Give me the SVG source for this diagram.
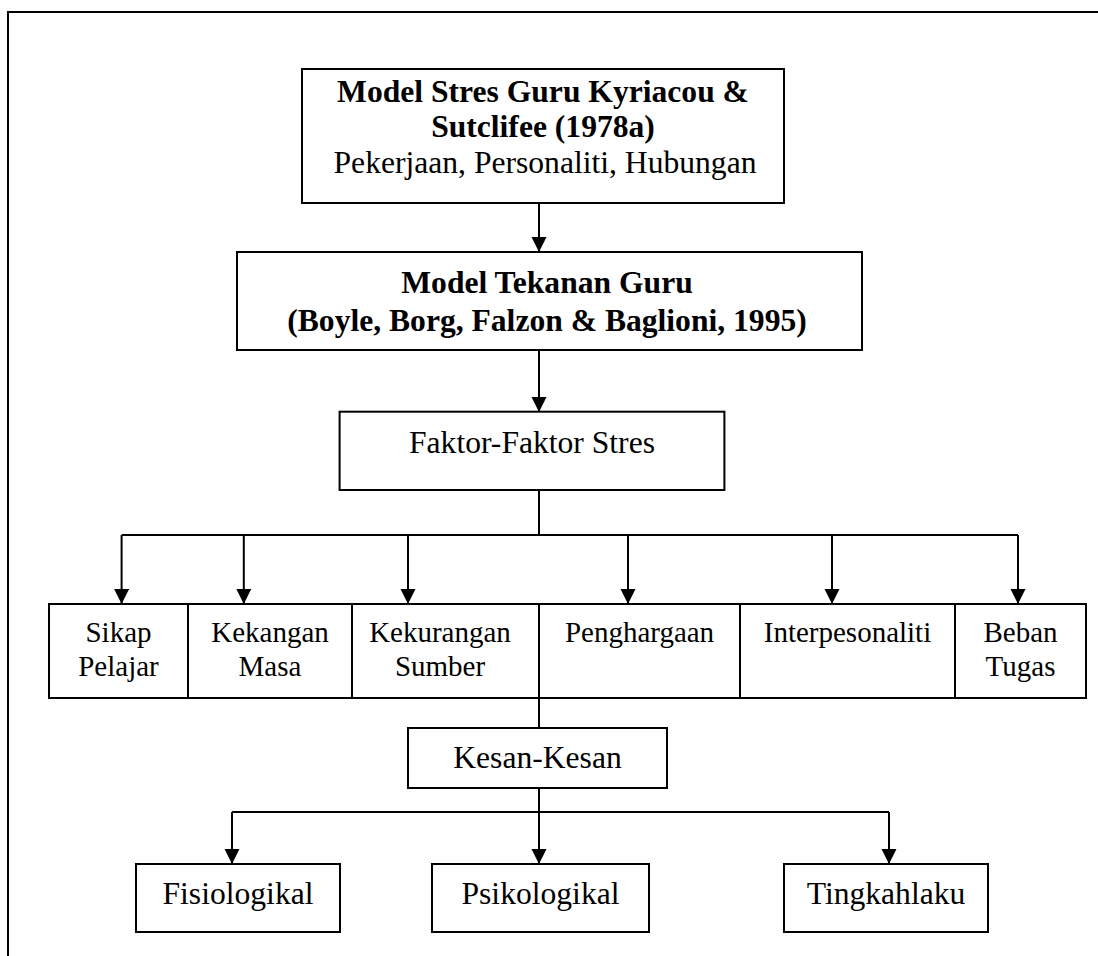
<svg xmlns="http://www.w3.org/2000/svg" width="1098" height="956" viewBox="0 0 1098 956">
<style>
.box{fill:#fff;stroke:#000;stroke-width:2}
.ln{fill:none;stroke:#000;stroke-width:2}
.t{font-family:"Liberation Serif","Times New Roman",serif;font-size:31.6px;fill:#000;text-anchor:middle}
.b{font-weight:bold}
.s{font-size:29px}
</style>
<defs>
<marker id="ah" markerUnits="userSpaceOnUse" markerWidth="16" markerHeight="16" refX="15" refY="7.5" orient="auto">
<path d="M0,0 L15,7.5 L0,15 z" fill="#000"/>
</marker>
</defs>
<rect width="1098" height="956" fill="#fff"/>
<path class="ln" d="M8,956 V12 H1098"/>
<g id="connectors">
<path class="ln" d="M539,203 V252" marker-end="url(#ah)"/>
<path class="ln" d="M539,350 V412" marker-end="url(#ah)"/>
<path class="ln" d="M539,490 V535 M121.6,535 H1018"/>
<path class="ln" d="M121.6,535 V604" marker-end="url(#ah)"/>
<path class="ln" d="M243.8,535 V604" marker-end="url(#ah)"/>
<path class="ln" d="M408,535 V604" marker-end="url(#ah)"/>
<path class="ln" d="M628,535 V604" marker-end="url(#ah)"/>
<path class="ln" d="M832,535 V604" marker-end="url(#ah)"/>
<path class="ln" d="M1018,535 V604" marker-end="url(#ah)"/>
<path class="ln" d="M539,698 V728"/>
<path class="ln" d="M539,788 V812 M232,812 H889"/>
<path class="ln" d="M232,812 V864" marker-end="url(#ah)"/>
<path class="ln" d="M539,812 V864" marker-end="url(#ah)"/>
<path class="ln" d="M889,812 V864" marker-end="url(#ah)"/>
</g>
<g id="model-stres">
<rect class="box" x="302" y="69" width="482" height="134"/>
<text class="t b" x="543" y="102">Model Stres Guru Kyriacou &amp;</text>
<text class="t b" x="543" y="137">Sutclifee (1978a)</text>
<text class="t" x="545" y="173">Pekerjaan, Personaliti, Hubungan</text>
</g>
<g id="model-tekanan">
<rect class="box" x="237" y="252" width="625" height="98"/>
<text class="t b" x="547" y="293">Model Tekanan Guru</text>
<text class="t b" x="547" y="331">(Boyle, Borg, Falzon &amp; Baglioni, 1995)</text>
</g>
<g id="faktor">
<rect class="box" x="339.6" y="411.7" width="384.8" height="78.3"/>
<text class="t" x="532" y="453">Faktor-Faktor Stres</text>
</g>
<g id="sikap">
<rect class="box" x="49" y="604" width="139" height="94"/>
<text class="t s" x="118.5" y="642">Sikap</text>
<text class="t s" x="118.5" y="676">Pelajar</text>
</g>
<g id="kekangan">
<rect class="box" x="188" y="604" width="164" height="94"/>
<text class="t s" x="270" y="642">Kekangan</text>
<text class="t s" x="270" y="676">Masa</text>
</g>
<g id="kekurangan">
<rect class="box" x="352" y="604" width="187" height="94"/>
<text class="t s" x="440" y="642">Kekurangan</text>
<text class="t s" x="440" y="676">Sumber</text>
</g>
<g id="penghargaan">
<rect class="box" x="539" y="604" width="201" height="94"/>
<text class="t s" x="639.5" y="642">Penghargaan</text>
</g>
<g id="interpesonaliti">
<rect class="box" x="740" y="604" width="215" height="94"/>
<text class="t s" x="847.5" y="642">Interpesonaliti</text>
</g>
<g id="beban">
<rect class="box" x="955" y="604" width="131" height="94"/>
<text class="t s" x="1020.5" y="642">Beban</text>
<text class="t s" x="1020.5" y="676">Tugas</text>
</g>
<g id="kesan">
<rect class="box" x="408" y="728" width="259" height="60"/>
<text class="t" x="537.5" y="768">Kesan-Kesan</text>
</g>
<g id="fisiologikal">
<rect class="box" x="136" y="864" width="204" height="68"/>
<text class="t" x="238" y="904">Fisiologikal</text>
</g>
<g id="psikologikal">
<rect class="box" x="432" y="864" width="217" height="68"/>
<text class="t" x="540.5" y="904">Psikologikal</text>
</g>
<g id="tingkahlaku">
<rect class="box" x="784" y="864" width="204" height="68"/>
<text class="t" x="886" y="904">Tingkahlaku</text>
</g>
</svg>
